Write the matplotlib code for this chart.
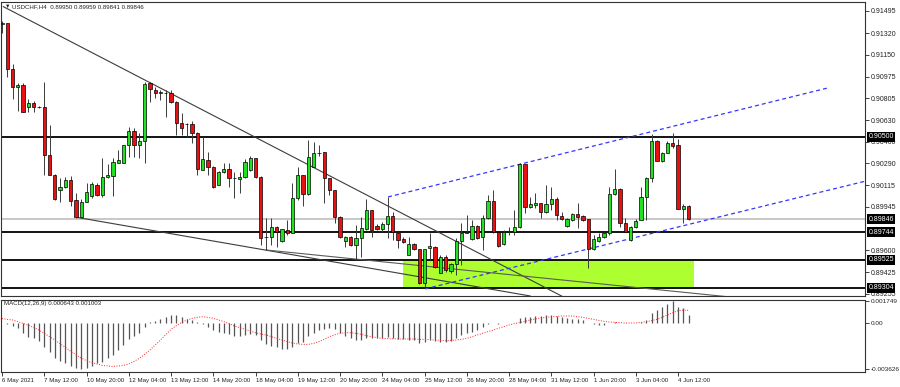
import numpy as np
import matplotlib
matplotlib.use("Agg")
from matplotlib import pyplot as plt
from matplotlib.patches import Rectangle
import matplotlib.transforms as mtransforms

plt.rcParams['font.family'] = ['Liberation Sans', 'DejaVu Sans']

symbol_title = "USDCHF,H4  0.89950 0.89959 0.89841 0.89846"
macd_title = "MACD(12,26,9) 0.000643 0.001003"

# H4 candles, 6 May 04:00 .. 4 Jun 20:00
opens = [
    0.91392, 0.91400, 0.91036, 0.90894, 0.90909, 0.90735, 0.90767, 0.90735, 0.90735, 0.90355,
    0.90197, 0.90078, 0.90102, 0.90157, 0.89999, 0.89864, 0.89983, 0.90031, 0.90118, 0.90039,
    0.90181, 0.90189, 0.90292, 0.90292, 0.90434, 0.90545, 0.90434, 0.90466, 0.90925, 0.90870,
    0.90846, 0.90846, 0.90846, 0.90775, 0.90609, 0.90601, 0.90601, 0.90529, 0.90237, 0.90316,
    0.90260, 0.90118, 0.90221, 0.90245, 0.90173, 0.90165, 0.90181, 0.90237, 0.90331, 0.90181,
    0.89706, 0.89706, 0.89785, 0.89674, 0.89761, 0.89738, 0.90015, 0.90197, 0.90047, 0.90260,
    0.90371, 0.90379, 0.90173, 0.90078, 0.89864, 0.89674, 0.89706, 0.89643, 0.89698, 0.89769,
    0.89920, 0.89793, 0.89769, 0.89809, 0.89872, 0.89738, 0.89690, 0.89564, 0.89651, 0.89611,
    0.89342, 0.89619, 0.89627, 0.89421, 0.89548, 0.89437, 0.89492, 0.89674, 0.89738, 0.89690,
    0.89793, 0.89706, 0.89856, 0.89991, 0.89745, 0.89651, 0.89745, 0.89745, 0.89785, 0.90284,
    0.89943, 0.89959, 0.89975, 0.89904, 0.89967, 0.90007, 0.89872, 0.89793, 0.89840, 0.89888,
    0.89872, 0.89848, 0.89611, 0.89674, 0.89706, 0.89738, 0.90047, 0.90086, 0.89817, 0.89682,
    0.89785, 0.89840, 0.90023, 0.90173, 0.90466, 0.90308, 0.90371, 0.90450, 0.90434, 0.89927,
    0.89950]
highs = [
    0.91416, 0.91400, 0.91076, 0.90925, 0.90925, 0.90799, 0.90783, 0.90743, 0.90933, 0.90593,
    0.90205, 0.90173, 0.90181, 0.90189, 0.90054, 0.90007, 0.90134, 0.90142, 0.90134, 0.90331,
    0.90284, 0.90331, 0.90395, 0.90434, 0.90577, 0.90569, 0.90529, 0.90933, 0.90933, 0.90894,
    0.90870, 0.90870, 0.90870, 0.90783, 0.90688, 0.90609, 0.90624, 0.90537, 0.90498, 0.90379,
    0.90268, 0.90229, 0.90292, 0.90292, 0.90221, 0.90221, 0.90324, 0.90347, 0.90331, 0.90189,
    0.89856, 0.89856, 0.89793, 0.89769, 0.89840, 0.90134, 0.90260, 0.90197, 0.90474, 0.90458,
    0.90434, 0.90379, 0.90173, 0.90078, 0.89872, 0.89714, 0.89714, 0.89801, 0.89864, 0.90007,
    0.89920, 0.89809, 0.89825, 0.90023, 0.89904, 0.89745, 0.89706, 0.89706, 0.89658, 0.89611,
    0.89611, 0.89738, 0.89635, 0.89564, 0.89564, 0.89500, 0.89698, 0.89817, 0.89880, 0.89840,
    0.89801, 0.89880, 0.90039, 0.90078, 0.89753, 0.89761, 0.89785, 0.89920, 0.90292, 0.90284,
    0.90023, 0.90054, 0.89975, 0.90118, 0.90102, 0.90023, 0.89904, 0.89856, 0.89896, 0.89975,
    0.89880, 0.89848, 0.89722, 0.89738, 0.89745, 0.90102, 0.90245, 0.90094, 0.89856, 0.89793,
    0.89848, 0.90102, 0.90181, 0.90521, 0.90474, 0.90379, 0.90466, 0.90529, 0.90482, 0.89967,
    0.89959]
lows = [
    0.91321, 0.90973, 0.90799, 0.90704, 0.90696, 0.90696, 0.90696, 0.90727, 0.90197, 0.90197,
    0.89999, 0.89983, 0.90094, 0.89951, 0.89856, 0.89856, 0.89983, 0.90015, 0.90031, 0.90023,
    0.90173, 0.90031, 0.90292, 0.90292, 0.90339, 0.90339, 0.90331, 0.90292, 0.90775, 0.90806,
    0.90791, 0.90656, 0.90767, 0.90514, 0.90514, 0.90498, 0.90450, 0.90197, 0.90237, 0.90197,
    0.90094, 0.90118, 0.90213, 0.90102, 0.90015, 0.90054, 0.90173, 0.90229, 0.90173, 0.89643,
    0.89603, 0.89643, 0.89627, 0.89666, 0.89722, 0.89738, 0.89999, 0.89951, 0.90039, 0.90260,
    0.90347, 0.89975, 0.90039, 0.89817, 0.89698, 0.89627, 0.89635, 0.89524, 0.89548, 0.89761,
    0.89706, 0.89761, 0.89745, 0.89698, 0.89682, 0.89619, 0.89658, 0.89564, 0.89603, 0.89334,
    0.89310, 0.89524, 0.89461, 0.89421, 0.89429, 0.89421, 0.89405, 0.89484, 0.89738, 0.89682,
    0.89690, 0.89603, 0.89848, 0.89738, 0.89627, 0.89643, 0.89722, 0.89722, 0.89777, 0.89896,
    0.89935, 0.89935, 0.89856, 0.89896, 0.89920, 0.89840, 0.89840, 0.89785, 0.89833, 0.89777,
    0.89833, 0.89461, 0.89603, 0.89666, 0.89698, 0.89722, 0.90039, 0.89785, 0.89745, 0.89674,
    0.89777, 0.89840, 0.89840, 0.90142, 0.90308, 0.90300, 0.90371, 0.90411, 0.89927, 0.89817,
    0.89841]
closes = [
    0.91400, 0.91036, 0.90894, 0.90909, 0.90696, 0.90767, 0.90735, 0.90735, 0.90355, 0.90197,
    0.90007, 0.90102, 0.90157, 0.89991, 0.89864, 0.89983, 0.90062, 0.90126, 0.90039, 0.90181,
    0.90197, 0.90300, 0.90316, 0.90434, 0.90545, 0.90434, 0.90466, 0.90917, 0.90878, 0.90846,
    0.90854, 0.90846, 0.90775, 0.90609, 0.90569, 0.90601, 0.90529, 0.90245, 0.90324, 0.90260,
    0.90102, 0.90221, 0.90245, 0.90173, 0.90173, 0.90181, 0.90300, 0.90331, 0.90181, 0.89698,
    0.89706, 0.89785, 0.89745, 0.89769, 0.89738, 0.90015, 0.90197, 0.90047, 0.90339, 0.90371,
    0.90371, 0.90173, 0.90078, 0.89864, 0.89706, 0.89706, 0.89643, 0.89698, 0.89777, 0.89920,
    0.89761, 0.89769, 0.89809, 0.89872, 0.89745, 0.89682, 0.89666, 0.89651, 0.89611, 0.89342,
    0.89611, 0.89635, 0.89469, 0.89548, 0.89445, 0.89492, 0.89674, 0.89738, 0.89745, 0.89793,
    0.89698, 0.89856, 0.89991, 0.89745, 0.89635, 0.89745, 0.89753, 0.89785, 0.90284, 0.89943,
    0.89967, 0.89975, 0.89904, 0.89967, 0.90007, 0.89880, 0.89848, 0.89848, 0.89888, 0.89864,
    0.89840, 0.89611, 0.89690, 0.89706, 0.89738, 0.90047, 0.90086, 0.89817, 0.89745, 0.89785,
    0.89833, 0.90023, 0.90173, 0.90466, 0.90308, 0.90371, 0.90450, 0.90426, 0.89927, 0.89951,
    0.89846]

# MACD main (histogram) and signal, in units of 1e-3
macd_main_e3 = [
    -0.03, -0.11, -0.24, -0.42, -0.77, -1.09, -1.22, -1.40, -1.88, -2.28,
    -2.81, -3.02, -3.21, -3.42, -3.58, -3.63, -3.55, -3.42, -3.21, -3.07,
    -2.81, -2.54, -2.15, -1.75, -1.30, -1.03, -0.77, -0.29, 0.05, 0.13,
    0.29, 0.50, 0.61, 0.61, 0.50, 0.34, 0.24, 0.05, -0.08, -0.29,
    -0.56, -0.72, -0.77, -0.90, -1.03, -1.03, -0.95, -0.87, -0.95, -1.35,
    -1.67, -1.83, -1.93, -2.04, -2.09, -1.88, -1.56, -1.48, -1.03, -0.77,
    -0.56, -0.50, -0.42, -0.50, -0.77, -1.03, -1.22, -1.35, -1.35, -1.22,
    -1.17, -1.22, -1.22, -1.14, -1.22, -1.30, -1.30, -1.35, -1.35, -1.56,
    -1.48, -1.35, -1.40, -1.48, -1.48, -1.40, -1.22, -0.95, -0.82, -0.69,
    -0.56, -0.34, -0.08, -0.03, -0.05, -0.03, 0.00, 0.03, 0.37, 0.45,
    0.50, 0.56, 0.58, 0.61, 0.61, 0.53, 0.50, 0.40, 0.32, 0.32,
    0.24, -0.03, -0.08, -0.13, -0.16, -0.03, 0.08, 0.03, -0.03, -0.03,
    0.00, 0.05, 0.24, 0.77, 1.03, 1.30, 1.51, 1.75, 1.30, 1.17,
    0.64]
macd_signal_e3 = [
    0.35, 0.29, 0.24, 0.11, -0.03, -0.19, -0.35, -0.56, -0.82, -1.09,
    -1.35, -1.64, -1.94, -2.25, -2.54, -2.78, -3.00, -3.15, -3.26, -3.37,
    -3.42, -3.45, -3.42, -3.37, -3.26, -3.05, -2.81, -2.49, -2.15, -1.75,
    -1.35, -0.93, -0.50, -0.21, 0.03, 0.24, 0.37, 0.45, 0.50, 0.45,
    0.37, 0.24, 0.11, -0.05, -0.24, -0.37, -0.50, -0.64, -0.77, -0.88,
    -0.95, -1.09, -1.22, -1.35, -1.48, -1.59, -1.67, -1.70, -1.70, -1.62,
    -1.48, -1.30, -1.09, -0.93, -0.82, -0.77, -0.77, -0.82, -0.90, -1.01,
    -1.09, -1.17, -1.22, -1.25, -1.25, -1.27, -1.27, -1.27, -1.27, -1.30,
    -1.30, -1.33, -1.35, -1.38, -1.41, -1.38, -1.35, -1.30, -1.22, -1.09,
    -0.95, -0.82, -0.69, -0.56, -0.42, -0.29, -0.16, -0.05, 0.03, 0.13,
    0.24, 0.32, 0.40, 0.45, 0.50, 0.53, 0.56, 0.56, 0.56, 0.50,
    0.45, 0.37, 0.29, 0.21, 0.13, 0.08, 0.05, 0.03, 0.00, 0.00,
    0.00, 0.05, 0.11, 0.19, 0.29, 0.45, 0.64, 0.82, 0.98, 1.03,
    1.00]

time_labels = ["6 May 2021", "7 May 12:00", "10 May 20:00", "12 May 04:00", "13 May 12:00",
               "14 May 20:00", "18 May 04:00", "19 May 12:00", "20 May 20:00", "24 May 04:00",
               "25 May 12:00", "26 May 20:00", "28 May 04:00", "31 May 12:00", "1 Jun 20:00",
               "3 Jun 04:00", "4 Jun 12:00"]
time_label_bars = [0, 8, 16, 24, 32, 40, 48, 56, 64, 72, 80, 88, 96, 104, 112, 120, 128]

price_ticks = [0.91495, 0.91320, 0.91150, 0.90975, 0.90805, 0.90630, 0.90460, 0.90290,
               0.90115, 0.89945, 0.89600, 0.89425, 0.89255]
level_prices = [0.90500, 0.89744, 0.89525, 0.89304]
last_price = 0.89846
macd_ticks = [0.001749, 0.0, -0.003626]
macd_tick_labels = ["0.001749", "0.00", "-0.003626"]

# support zone: bar range and price range
zone_bars = [75.9, 131.1]
zone_prices = [0.89297, 0.89525]

# drawn lines as (bar, price) anchors
falling_line_bars = [0.25, 106.3]
falling_line_prices = [0.91529, 0.89231]
support1_bars = [14.2, 100.0]
support1_prices = [0.89861, 0.89239]
support2_bars = [50.0, 138.8]
support2_prices = [0.89603, 0.89227]
channel_top_bars = [73.1, 156.4]
channel_top_prices = [0.90023, 0.90886]
channel_bottom_bars = [80.1, 163.6]
channel_bottom_prices = [0.89295, 0.90149]

fig = plt.figure(figsize=(9, 3.87), dpi=100)
ax = fig.add_axes([0.00111, 0.2339, 0.96, 0.7610])
ax2 = fig.add_axes([0.00111, 0.03876, 0.96, 0.1873])

x = np.arange(len(opens))
o = np.array(opens)
c = np.array(closes)
up = c >= o

ax.add_patch(Rectangle((zone_bars[0], zone_prices[0]), zone_bars[1] - zone_bars[0],
                       zone_prices[1] - zone_prices[0], facecolor='#adff2f', edgecolor='none', zorder=1))
ax.axhline(last_price, color='#c4c4c4', lw=1.3, zorder=1.5)
for p in level_prices:
    ax.axhline(p, color='black', lw=1.3, zorder=2)

ax.plot(falling_line_bars, falling_line_prices, color='#3c3c3c', lw=0.8, zorder=2.5)
ax.plot(support1_bars, support1_prices, color='#3c3c3c', lw=0.8, zorder=2.5)
ax.plot(support2_bars, support2_prices, color='#5a5a5a', lw=0.8, zorder=2.5)
ax.plot(channel_top_bars, channel_top_prices, color='#3535ff', lw=0.9, ls=(0, (3.2, 2.4)), zorder=2.6)
ax.plot(channel_bottom_bars, channel_bottom_prices, color='#3535ff', lw=0.9, ls=(0, (3.2, 2.4)), zorder=2.6)

ax.vlines(x, lows, highs, color='#3a3a3a', lw=0.7, zorder=3)
ax.bar(x, np.abs(c - o), bottom=np.minimum(o, c), width=0.62,
       color=np.where(up, '#22e022', '#e81010'), edgecolor='black', linewidth=0.5, zorder=4)

ax.set_xlim(-0.19, 163.4)
ax.set_ylim(0.89235, 0.91566)
ax.set_xticks([])
ax.yaxis.tick_right()
ax.set_yticks(price_ticks)
ax.set_yticklabels([f"{p:.5f}" for p in price_ticks])
ax.tick_params(axis='y', direction='out', length=3, width=0.6, labelsize=5, pad=1, colors='#222222')

trans = mtransforms.blended_transform_factory(ax.transAxes, ax.transData)
for p in level_prices + [last_price]:
    ax.text(1.004, p, f"{p:.5f}", transform=trans, color='white', fontsize=5, va='center', ha='left',
            bbox=dict(boxstyle='square,pad=0.2', fc='black', ec='none'), clip_on=False, zorder=10)

ax.text(0.004, 0.984, "\u25bc", transform=ax.transAxes, fontsize=4, va='center', ha='left', color='#222222')
ax.text(0.013, 0.984, symbol_title, transform=ax.transAxes, fontsize=4.4, va='center', ha='left', color='#222222')

# MACD panel
main = np.array(macd_main_e3) * 1e-3
signal = np.array(macd_signal_e3) * 1e-3
ax2.vlines(x, 0, main, color='#555555', lw=0.9)
ax2.plot(x, signal, color='#ff2020', lw=0.7, ls=(0, (1, 1.6)))
ax2.set_xlim(-0.19, 163.4)
ax2.set_ylim(-0.003896, 0.001868)
ax2.yaxis.tick_right()
ax2.set_yticks(macd_ticks)
ax2.set_yticklabels(macd_tick_labels)
ax2.tick_params(axis='y', direction='out', length=3, width=0.6, labelsize=4.6, pad=1, colors='#222222')
ax2.set_xticks(time_label_bars)
ax2.set_xticklabels(time_labels)
ax2.tick_params(axis='x', direction='out', length=3, width=0.6, labelsize=4.4, pad=1.5, colors='#222222')
for lbl in ax2.get_xticklabels():
    lbl.set_ha('left')
ax2.text(0.003, 0.95, macd_title, transform=ax2.transAxes, fontsize=4.4, va='center', ha='left', color='#222222')

for a in (ax, ax2):
    for s in a.spines.values():
        s.set_linewidth(0.8)
        s.set_color('#333333')

fig.savefig('out.png', dpi=100, facecolor='white')
